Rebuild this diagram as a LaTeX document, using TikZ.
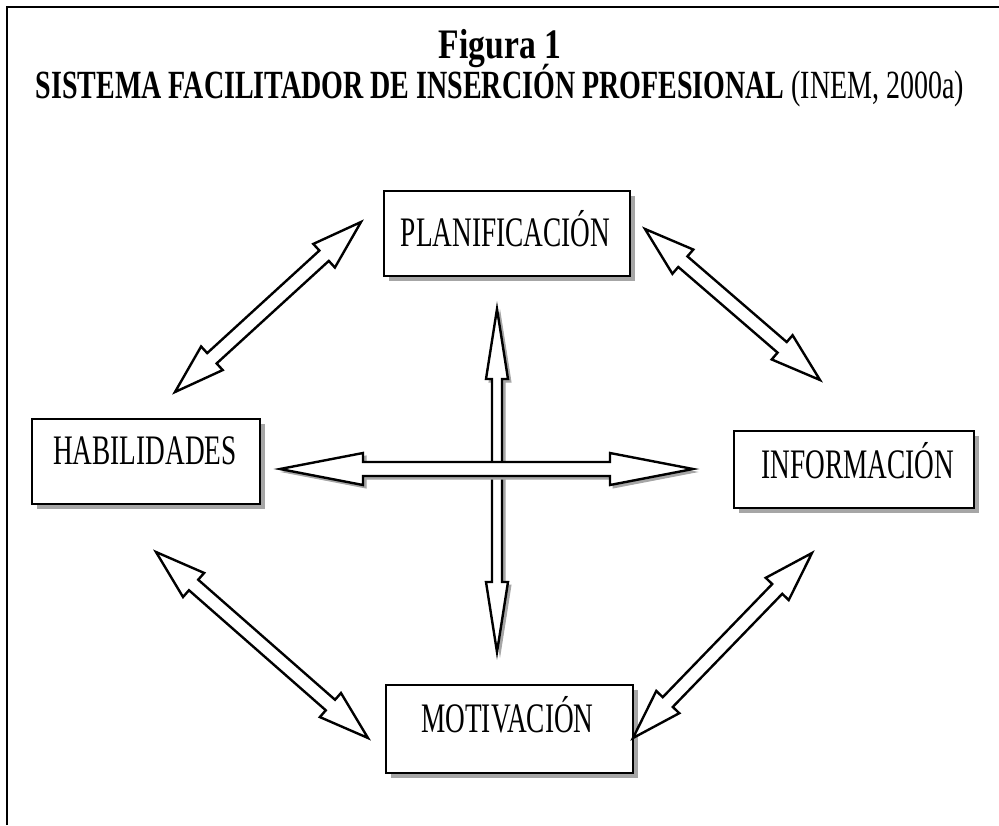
\documentclass[tikz,border=0pt]{standalone}
\usepackage{fontspec}
\setmainfont{Liberation Serif}
\newfontfamily\boxfont[FakeStretch=0.65]{Liberation Serif}
\newfontfamily\titlefont[FakeStretch=0.70]{Liberation Serif}
\newfontfamily\figfont[FakeStretch=0.80]{Liberation Serif}
\usetikzlibrary{calc,shadows}

\newcommand{\dblarrow}[6]{%
 \path[#6] (#1) -- ($(#1)!#5!(#2)!#4!90:(#2)$) -- ($(#1)!#5!(#2)!#3!90:(#2)$)
  -- ($(#2)!#5!(#1)!#3!-90:(#1)$) -- ($(#2)!#5!(#1)!#4!-90:(#1)$) -- (#2)
  -- ($(#2)!#5!(#1)!#4!90:(#1)$) -- ($(#2)!#5!(#1)!#3!90:(#1)$)
  -- ($(#1)!#5!(#2)!#3!-90:(#2)$) -- ($(#1)!#5!(#2)!#4!-90:(#2)$) -- cycle;}

\tikzset{
 boxshape/.style={draw=black, line width=2pt, fill=white, inner sep=0pt,
   drop shadow={shadow xshift=5pt, shadow yshift=-5pt, opacity=1, fill=black!35}},
 shadowfill/.style={fill=black!35, draw=black!35, line width=1pt},
 arrowline/.style={draw=black, line width=2.4pt, fill=white, line join=miter},
 boxtext/.style={anchor=base, inner sep=0pt, font=\boxfont\fontsize{42}{42}\selectfont},
 frameline/.style={line width=2pt, draw=black},
}

\begin{document}
\begin{tikzpicture}[x=1pt, y=-1pt]
\path[use as bounding box] (0,0) rectangle (999,825);
\draw[frameline] (7,825) -- (7,7) -- (999,7);

% title
\node[anchor=base, inner sep=0pt, font=\figfont\bfseries\fontsize{42}{42}\selectfont] (fig) at (500,58) {Figura 1};
\node[anchor=base, inner sep=0pt, font=\titlefont\fontsize{40}{40}\selectfont] (title) at (500,98) {\textbf{SISTEMA FACILITADOR DE INSERCIÓN PROFESIONAL} (INEM, 2000a)};

% boxes
\node[boxshape, anchor=north west, minimum width=246pt, minimum height=85pt] (plan) at (383,190) {};
\node[boxshape, anchor=north west, minimum width=228pt, minimum height=85pt] (hab) at (31,418) {};
\node[boxshape, anchor=north west, minimum width=240pt, minimum height=77pt] (info) at (733,430) {};
\node[boxshape, anchor=north west, minimum width=247pt, minimum height=88pt] (mot) at (385,684) {};

\node[boxtext] (plant) at (505.5,246) {PLANIFICACIÓN};
\node[boxtext] (habt) at (145,464) {HABILIDADES};
\node[boxtext] (infot) at (858,478) {INFORMACIÓN};
\node[boxtext] (mott) at (507.5,732) {MOTIVACIÓN};

% arrow tips
\coordinate (d1a) at (175,392);  \coordinate (d1b) at (361,222);
\coordinate (d2a) at (645,229);  \coordinate (d2b) at (820,380);
\coordinate (d3a) at (156,552);  \coordinate (d3b) at (368,738);
\coordinate (d4a) at (633,738);  \coordinate (d4b) at (812,553);
\coordinate (va) at (497,309);   \coordinate (vb) at (497,652);
\coordinate (ha) at (280,469);   \coordinate (hb) at (693,469);
\coordinate (vas) at ($(va)+(3,3)$); \coordinate (vbs) at ($(vb)+(3,3)$);
\coordinate (has) at ($(ha)+(3,3)$); \coordinate (hbs) at ($(hb)+(3,3)$);

% diagonal arrows
\dblarrow{d1a}{d1b}{7pt}{16pt}{50pt}{arrowline}
\dblarrow{d2a}{d2b}{7pt}{16pt}{50pt}{arrowline}
\dblarrow{d3a}{d3b}{7pt}{16pt}{50pt}{arrowline}
\dblarrow{d4a}{d4b}{7pt}{16pt}{50pt}{arrowline}

% vertical arrow
\dblarrow{vas}{vbs}{5pt}{11pt}{70pt}{shadowfill}
\dblarrow{va}{vb}{5pt}{11pt}{70pt}{arrowline}
% horizontal arrow
\dblarrow{has}{hbs}{7pt}{16pt}{83pt}{shadowfill}
\dblarrow{ha}{hb}{7pt}{16pt}{83pt}{arrowline}
\end{tikzpicture}
\end{document}
